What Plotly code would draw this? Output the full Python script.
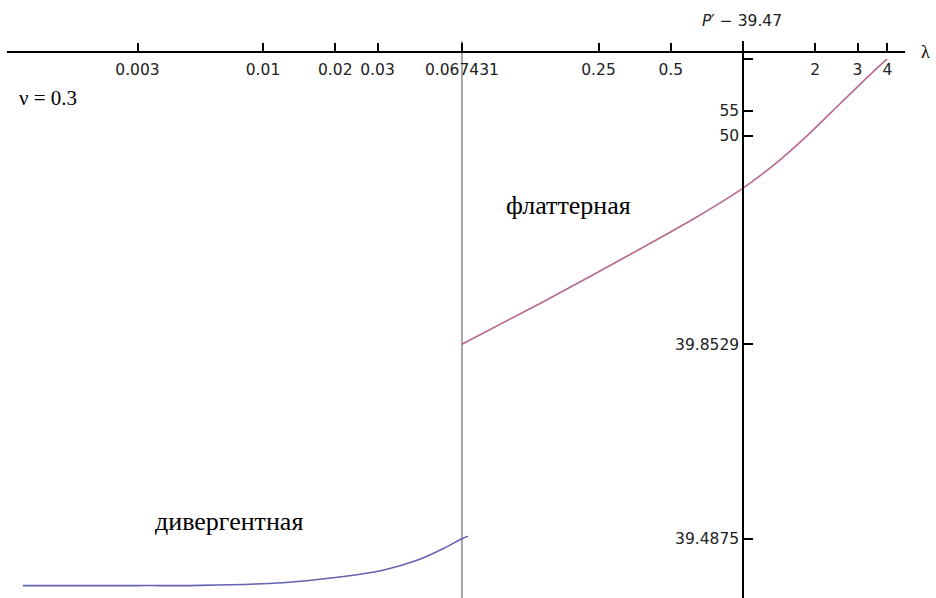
import plotly.graph_objects as go

# Vertical shift applied to the critical load before plotting on a log scale
P_SHIFT = 39.47
LAMBDA_CRIT = 0.067431

# Divergence branch: lambda and critical load P'
lam_div = [0.001, 0.002, 0.003, 0.0055, 0.0121, 0.0196, 0.0316, 0.0438, 0.0562, 0.067431, 0.0714]
p_div = [39.47830, 39.47830, 39.47831, 39.47834, 39.4787, 39.4794, 39.4806, 39.4824, 39.4849, 39.4875, 39.4882]

# Flutter branch: lambda and critical load P'
lam_flut = [0.067431, 0.1426, 0.2305, 0.3724, 0.6013, 0.8254, 1.0, 1.3335, 1.848, 2.536, 3.481, 3.981]
p_flut = [39.8529, 40.202, 40.593, 41.209, 42.181, 43.182, 44.033, 45.993, 49.95, 56.89, 68.41, 74.83]

# Axis ticks
x_tick_vals = [0.003, 0.01, 0.02, 0.03, 0.067431, 0.25, 0.5, 1, 2, 3, 4]
x_tick_text = ["0.003", "0.01", "0.02", "0.03", "0.067431", "0.25", "0.5", "", "2", "3", "4"]
y_tick_p = [39.4875, 39.8529, 50, 55, 75]
y_tick_text = ["39.4875", "39.8529", "50", "55", ""]

X_RANGE = [-3.0667, 0.675]
Y_RANGE = [-2.166, 1.674]

tick_font = dict(family="DejaVu Sans", size=15.5, color="#222222")
serif = "Liberation Serif, Times New Roman, DejaVu Serif, serif"

fig = go.Figure()

# critical lambda marker
fig.add_trace(go.Scatter(
    x=[LAMBDA_CRIT, LAMBDA_CRIT],
    y=[10 ** Y_RANGE[0], 10 ** Y_RANGE[1]],
    mode="lines", line=dict(color="#a6a6a6", width=2),
    hoverinfo="skip", showlegend=False,
))

fig.add_trace(go.Scatter(
    x=lam_div, y=[p - P_SHIFT for p in p_div],
    mode="lines", line=dict(color="#6363b2", width=1.6, shape="spline", smoothing=0.8),
    showlegend=False, name="дивергентная",
))
fig.add_trace(go.Scatter(
    x=lam_flut, y=[p - P_SHIFT for p in p_flut],
    mode="lines", line=dict(color="#b8688f", width=1.6, shape="spline", smoothing=0.6),
    showlegend=False, name="флаттерная",
))

fig.update_xaxes(
    type="log", range=X_RANGE,
    anchor="free", position=0.9803,
    showline=True, linecolor="black", linewidth=1.5,
    ticks="inside", ticklen=8, tickwidth=1.5, tickcolor="black",
    tickvals=x_tick_vals, ticktext=x_tick_text, ticklabelstandoff=4,
    tickfont=tick_font, showgrid=False, zeroline=False,
)
fig.update_yaxes(
    type="log", range=Y_RANGE,
    anchor="free", position=0.8196,
    showline=True, linecolor="black", linewidth=1.5,
    ticks="inside", ticklen=9, tickwidth=1.5, tickcolor="black",
    tickvals=[p - P_SHIFT for p in y_tick_p], ticktext=y_tick_text,
    tickfont=tick_font, showgrid=False, zeroline=False,
)

fig.add_annotation(x=0.0115, y=0.8977, xref="paper", yref="paper",
                   text="ν = 0.3", showarrow=False, xanchor="left", yanchor="middle",
                   font=dict(family=serif, size=21, color="black"))
fig.add_annotation(x=0.5530, y=0.7038, xref="paper", yref="paper",
                   text="флаттерная", showarrow=False, xanchor="left", yanchor="middle",
                   font=dict(family=serif, size=26, color="black"))
fig.add_annotation(x=0.1630, y=0.138, xref="paper", yref="paper",
                   text="дивергентная", showarrow=False, xanchor="left", yanchor="middle",
                   font=dict(family=serif, size=26, color="black"))
fig.add_annotation(x=0.819, y=1.0366, xref="paper", yref="paper",
                   text="<i>P</i>′ − 39.47", showarrow=False, xanchor="center", yanchor="middle",
                   font=tick_font)
fig.add_annotation(x=1.0223, y=0.980, xref="paper", yref="paper",
                   text="λ", showarrow=False, xanchor="center", yanchor="middle",
                   font=dict(family=serif, size=18, color="black"))

fig.update_layout(
    width=936, height=598,
    margin=dict(l=7, r=31, t=41, b=0, pad=0),
    paper_bgcolor="white", plot_bgcolor="white",
)

fig.write_html("out.html")
